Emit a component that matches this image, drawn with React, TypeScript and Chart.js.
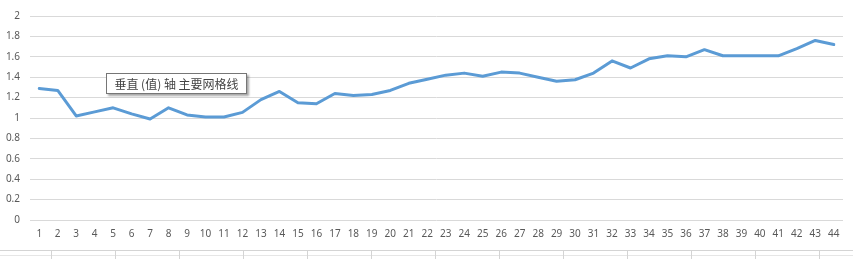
import React, { useEffect, useRef } from "react";
import { Chart, registerables } from "chart.js";

Chart.register(...registerables);

const categories: string[] = Array.from({ length: 44 }, (_, i) => String(i + 1));
const values: number[] = [
  1.29, 1.27, 1.02, 1.06, 1.1, 1.04, 0.99, 1.1, 1.03, 1.01,
  1.01, 1.055, 1.18, 1.26, 1.15, 1.14, 1.24, 1.22, 1.23, 1.27,
  1.34, 1.38, 1.42, 1.44, 1.41, 1.45, 1.44, 1.4, 1.36, 1.375,
  1.44, 1.56, 1.49, 1.58, 1.61, 1.6, 1.67, 1.61, 1.61, 1.61,
  1.61, 1.68, 1.76, 1.72,
];
const yMin = 0;
const yMax = 2;
const yStep = 0.2;
const tooltipText = "垂直 (值) 轴 主要网格线";

export default function App() {
  const ref = useRef<HTMLCanvasElement | null>(null);

  useEffect(() => {
    if (!ref.current) return;
    const chart = new Chart(ref.current, {
      type: "line",
      data: {
        labels: categories,
        datasets: [
          {
            data: values,
            borderColor: "#5B9BD5",
            borderWidth: 3,
            pointRadius: 0,
            tension: 0,
            borderCapStyle: "round",
            borderJoinStyle: "round",
            fill: false,
          },
        ],
      },
      options: {
        responsive: false,
        animation: false,
        layout: { padding: { left: 0, right: 10, top: 14, bottom: 0 } },
        plugins: { legend: { display: false }, tooltip: { enabled: false } },
        scales: {
          x: {
            offset: true,
            grid: { display: false, drawTicks: false },
            border: { display: false },
            ticks: {
              color: "#595959",
              font: { family: "Noto Sans", size: 10 },
              padding: 8,
              maxRotation: 0,
              autoSkip: false,
            },
            afterFit: (s: any) => {
              s.height = 25;
            },
          },
          y: {
            min: yMin,
            max: yMax,
            grid: { color: "#d9d9d9", lineWidth: 1, drawTicks: false },
            border: { display: false },
            ticks: {
              stepSize: yStep,
              color: "#595959",
              font: { family: "Noto Sans", size: 10 },
              padding: 10,
              callback: (v: any) => String(Math.round(Number(v) * 10) / 10),
            },
            afterFit: (s: any) => {
              s.width = 30;
            },
          },
        },
      },
    });
    return () => chart.destroy();
  }, []);

  const cellLines: number[] = [];
  for (let x = 51.5; x < 853; x += 64) cellLines.push(x);

  return (
    <div
      style={{
        position: "fixed",
        left: 0,
        top: 0,
        width: 853,
        height: 259,
        background: "#ffffff",
        overflow: "hidden",
      }}
    >
      <canvas ref={ref} width={853} height={245} style={{ display: "block" }} />
      <div
        style={{
          position: "absolute",
          left: 106,
          top: 73,
          width: 139,
          height: 19,
          border: "1px solid #767676",
          background: "#ffffff",
          boxShadow: "2px 2px 2px rgba(0,0,0,0.35)",
          fontFamily: "'Noto Sans CJK SC', sans-serif",
          fontSize: 12,
          lineHeight: "19px",
          color: "#444444",
          textAlign: "center",
          whiteSpace: "nowrap",
        }}
      >
        {tooltipText}
      </div>
      <div
        style={{
          position: "absolute",
          left: 0,
          top: 250,
          width: 853,
          height: 1,
          background: "#d4d4d4",
        }}
      />
      <div
        style={{
          position: "absolute",
          left: 0,
          top: 255,
          width: 853,
          height: 1,
          background: "#e6e6e6",
        }}
      />
      {cellLines.map((x) => (
        <div
          key={x}
          style={{
            position: "absolute",
            left: Math.floor(x),
            top: 251,
            width: 1,
            height: 8,
            background: "#d4d4d4",
          }}
        />
      ))}
    </div>
  );
}
